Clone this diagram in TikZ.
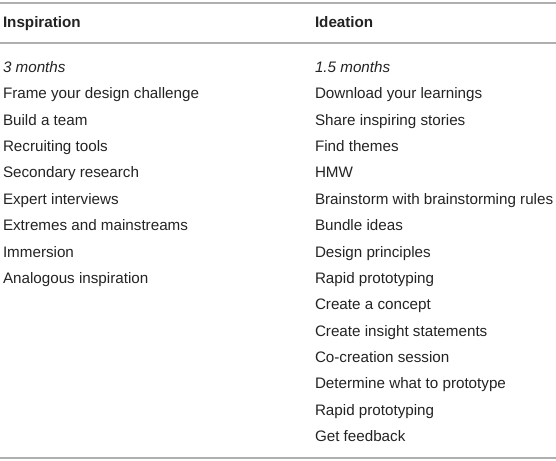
\documentclass[tikz,border=0pt]{standalone}
\usepackage{fontspec}
\setmainfont{Liberation Sans}
\definecolor{rulegray}{RGB}{175,175,175}
\definecolor{txt}{RGB}{35,35,35}
\begin{document}
\begin{tikzpicture}[x=1pt,y=-1pt,
  cell/.style={anchor=base west,inner sep=0pt,outer sep=0pt,text=txt,font=\fontsize{15.2}{18}\selectfont},
  head/.style={cell,font=\fontsize{15.2}{18}\selectfont\bfseries},
  rulel/.style={draw=rulegray,line width=1.4pt}]
\useasboundingbox (0,0) rectangle (556,460);
\coordinate (tl) at (0,3); \coordinate (tr) at (556,3);
\coordinate (ml) at (0,43); \coordinate (mr) at (556,43);
\coordinate (bl) at (0,458); \coordinate (br) at (556,458);
\draw[rulel] (tl) -- (tr);
\draw[rulel] (ml) -- (mr);
\draw[rulel] (bl) -- (br);
\node[head] (h1) at (3,27.5) {Inspiration};
\node[head] (h2) at (315,27.5) {Ideation};
\def\rowh{26.36}
\foreach \t [count=\i from 0] in {{\itshape 3 months},Frame your design challenge,Build a team,Recruiting tools,Secondary research,Expert interviews,Extremes and mainstreams,Immersion,Analogous inspiration}
  \node[cell] (l\i) at (3,72.5+\i*\rowh) {\t};
\foreach \t [count=\i from 0] in {{\itshape 1.5 months},Download your learnings,Share inspiring stories,Find themes,HMW,Brainstorm with brainstorming rules,Bundle ideas,Design principles,Rapid prototyping,Create a concept,Create insight statements,Co-creation session,Determine what to prototype,Rapid prototyping,Get feedback}
  \node[cell] (r\i) at (315,72.5+\i*\rowh) {\t};
\end{tikzpicture}
\end{document}
